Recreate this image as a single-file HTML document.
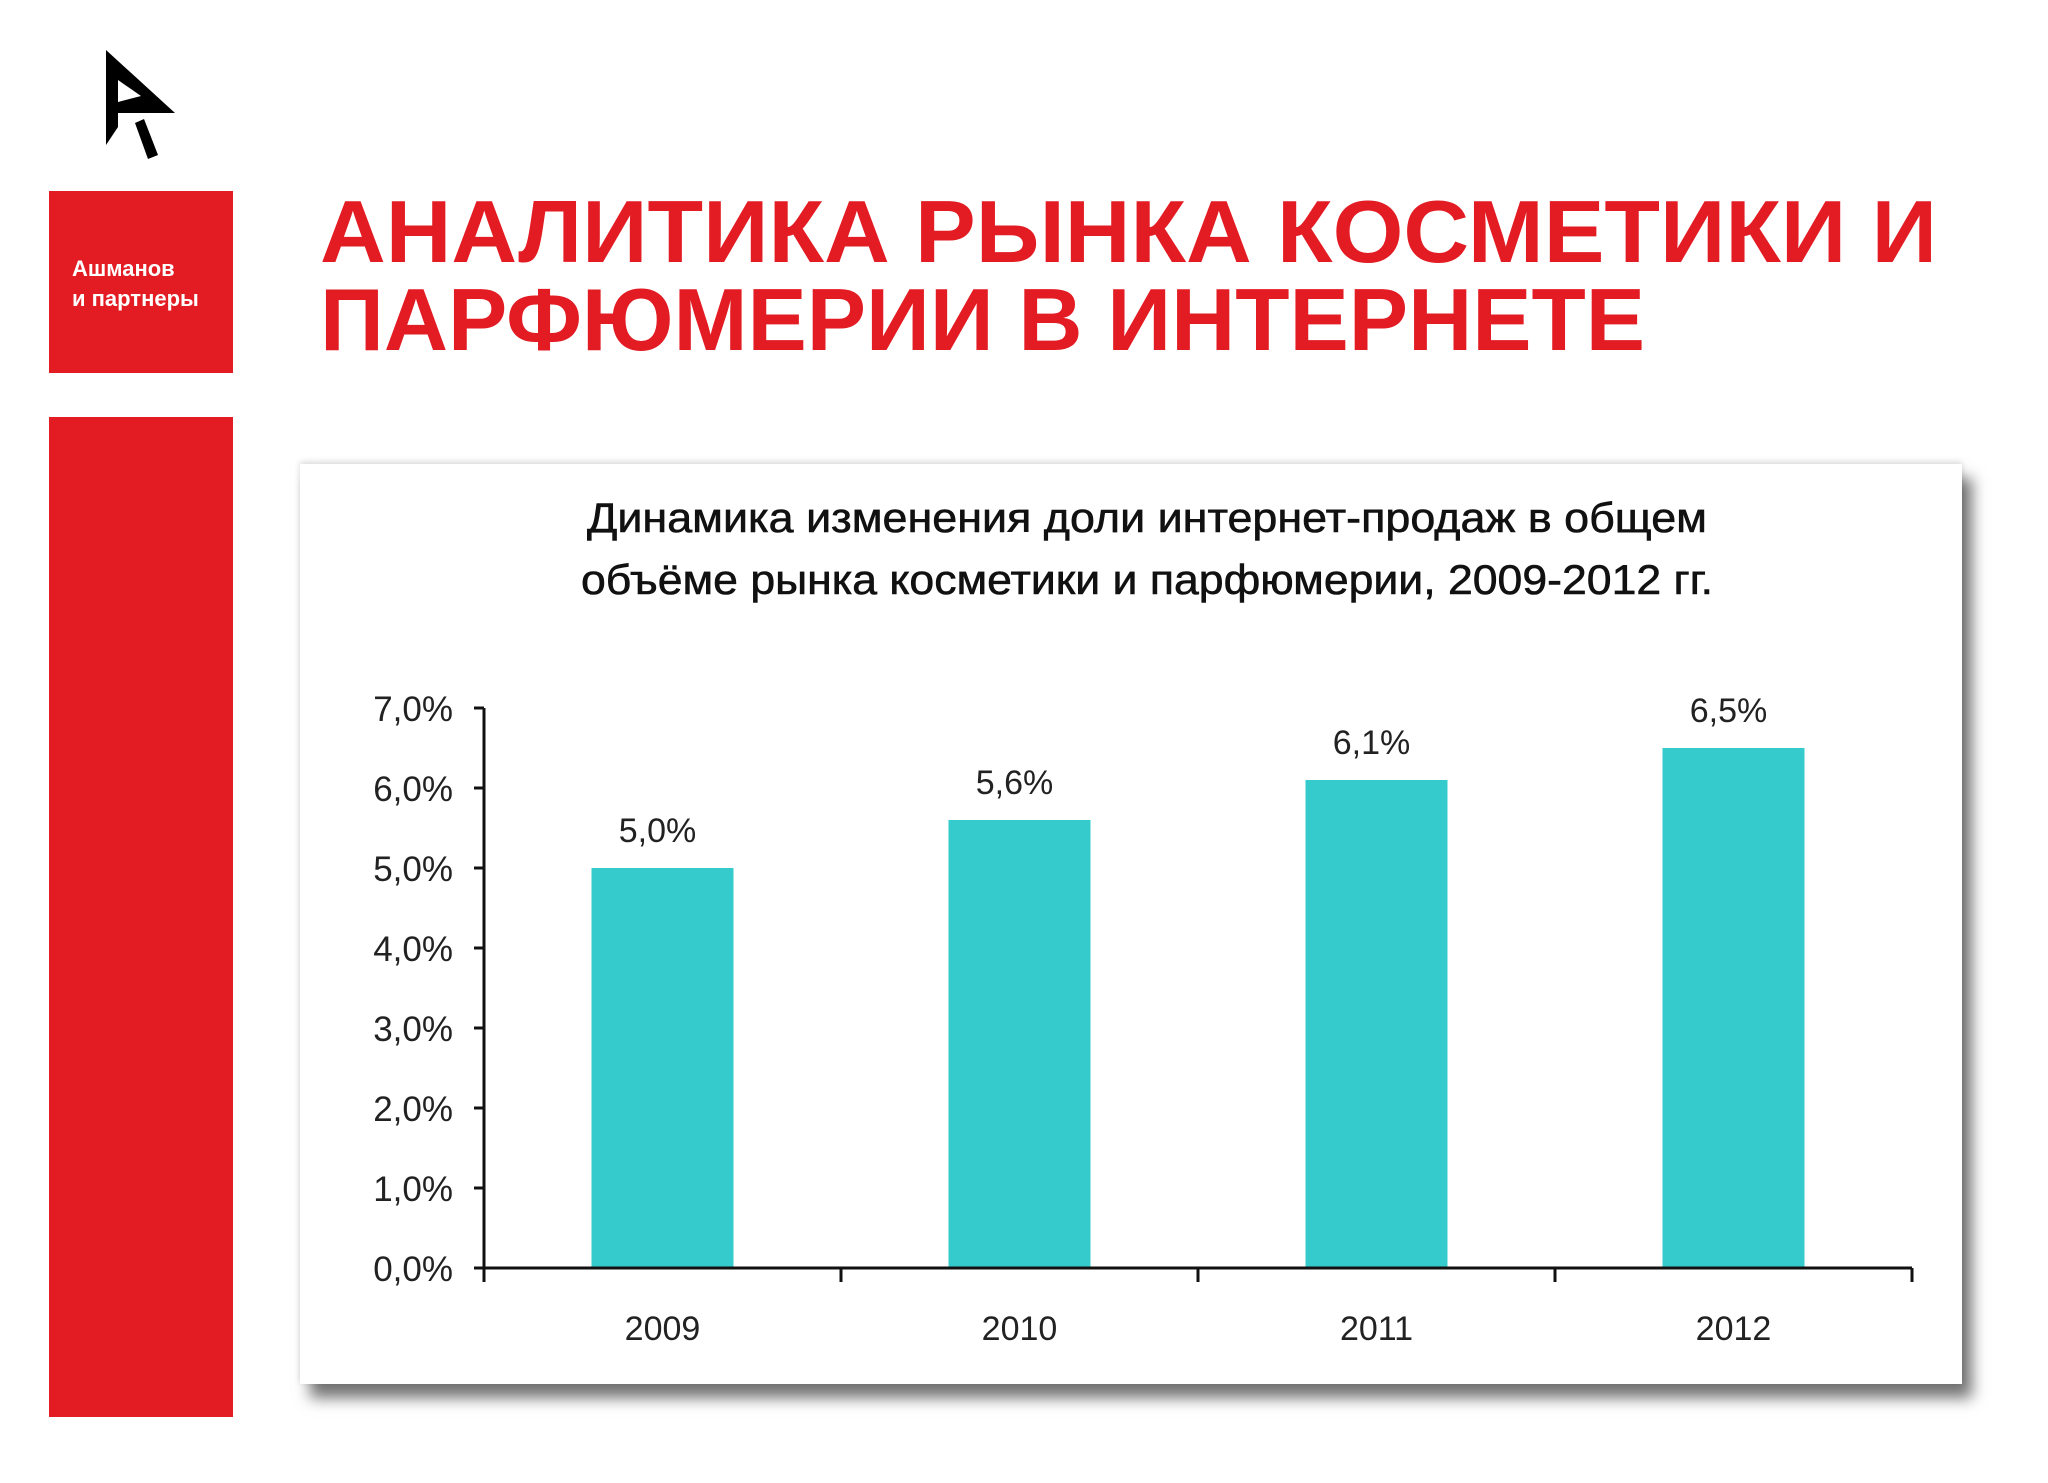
<!DOCTYPE html>
<html><head><meta charset="utf-8"><style>
html,body{margin:0;padding:0;background:#fff;}
body{width:2048px;height:1483px;position:relative;overflow:hidden;font-family:"Liberation Sans",sans-serif;}
</style></head><body>
<svg width="2048" height="200" style="position:absolute;left:0;top:0">
<path d="M106,50 L175,113 L118,113 L118,127 L106,145 Z M118,80 L118,102 L141,96 Z" fill="#000" fill-rule="evenodd"/>
<polygon points="135,123 144,119 158,155 148,159" fill="#000"/>
</svg>
<div style="position:absolute;left:49px;top:191px;width:184px;height:182px;background:#e31b23;color:#fff;font-weight:bold;font-size:22px;line-height:30px;">
<div style="position:absolute;left:23px;top:63px;">Ашманов<br>и партнеры</div></div>
<div style="position:absolute;left:49px;top:417px;width:184px;height:1000px;background:#e31b23"></div>
<svg width="2048" height="380" style="position:absolute;left:0;top:0">
<text x="320" y="262" font-family="Liberation Sans" font-weight="bold" font-size="88" fill="#e31b23" textLength="1617" lengthAdjust="spacingAndGlyphs">АНАЛИТИКА РЫНКА КОСМЕТИКИ И</text>
<text x="320" y="350" font-family="Liberation Sans" font-weight="bold" font-size="88" fill="#e31b23" textLength="1325" lengthAdjust="spacingAndGlyphs">ПАРФЮМЕРИИ В ИНТЕРНЕТЕ</text>
</svg>
<div style="position:absolute;left:300px;top:464px;width:1662px;height:920px;background:#fff;box-shadow:10px 14px 14px rgba(0,0,0,0.55),0 -2px 6px rgba(0,0,0,0.15);"></div>
<svg id="chart" width="2048" height="1483" style="position:absolute;left:0;top:0">
<text x="1147" y="532" text-anchor="middle" font-family="Liberation Sans" font-size="42" fill="#111" stroke="#111" stroke-width="0.6" textLength="1120" lengthAdjust="spacingAndGlyphs">Динамика изменения доли интернет-продаж в общем</text>
<text x="1147" y="594" text-anchor="middle" font-family="Liberation Sans" font-size="42" fill="#111" stroke="#111" stroke-width="0.6" textLength="1132" lengthAdjust="spacingAndGlyphs">объёме рынка косметики и парфюмерии, 2009-2012 гг.</text>
</svg>
<script>
const categories=["2009","2010","2011","2012"];
const values=[5.0,5.6,6.1,6.5];
const valueLabels=["5,0%","5,6%","6,1%","6,5%"];
const yTicks=[0,1,2,3,4,5,6,7];
const yTickLabels=["0,0%","1,0%","2,0%","3,0%","4,0%","5,0%","6,0%","7,0%"];
const NS="http://www.w3.org/2000/svg";
const svg=document.getElementById('chart');
const x0=484,plotW=1428,y0=1268,yMax=7,plotH=560;
const step=plotW/categories.length,barW=142;
const y=v=>y0-v/yMax*plotH;
const xc=i=>x0+step*(i+0.5);
function mk(t,a,txt){const e=document.createElementNS(NS,t);for(const k in a)e.setAttribute(k,a[k]);if(txt!==undefined)e.textContent=txt;svg.appendChild(e);return e;}
values.forEach((v,i)=>{
 const r=mk('rect',{x:xc(i)-barW/2,y:y(v),width:barW,height:y0-y(v),fill:'#35cbcc'});
 
 
 const l=mk('text',{x:xc(i)-5,y:y(v)-26,'text-anchor':'middle','font-family':'Liberation Sans','font-size':'34',fill:'#222'},valueLabels[i]);
 
 
 const c=mk('text',{x:xc(i),y:1340,'text-anchor':'middle','font-family':'Liberation Sans','font-size':'34',fill:'#222'},categories[i]);
 
 
});
const ya=mk('line',{x1:x0,y1:y(yMax),x2:x0,y2:y0+14,stroke:'#111','stroke-width':3});


const xa=mk('line',{x1:x0-10,y1:y0,x2:x0+plotW,y2:y0,stroke:'#111','stroke-width':3});


for(let i=0;i<=categories.length;i++){
 const t=mk('line',{x1:x0+step*i,y1:y0,x2:x0+step*i,y2:y0+14,stroke:'#111','stroke-width':3});
 
 
}
yTicks.forEach((v,i)=>{
 const t=mk('line',{x1:x0-10,y1:y(v),x2:x0,y2:y(v),stroke:'#111','stroke-width':3});
 
 
 const l=mk('text',{x:453,y:y(v)+13,'text-anchor':'end','font-family':'Liberation Sans','font-size':'35',fill:'#222'},yTickLabels[i]);
 
 
});
</script>
</body></html>
